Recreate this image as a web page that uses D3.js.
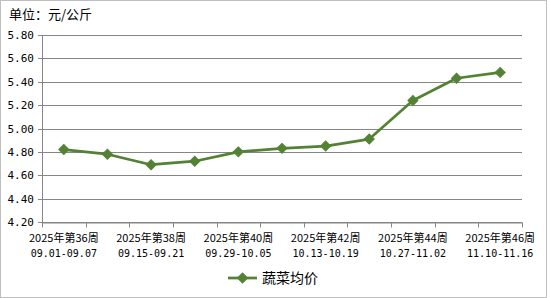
<!DOCTYPE html>
<html>
<head>
<meta charset="utf-8">
<script src="https://cdn.jsdelivr.net/npm/d3@7"></script>
<style>
  body { margin: 0; background: #fff; }
  svg text { font-family: "Noto Sans CJK SC", "DejaVu Sans", sans-serif; fill: #000; }
</style>
</head>
<body>
<div id="chart"></div>
<script>
const weeks = ["2025年第36周", "2025年第37周", "2025年第38周", "2025年第39周", "2025年第40周",
  "2025年第41周", "2025年第42周", "2025年第43周", "2025年第44周", "2025年第45周", "2025年第46周"];
const ranges = ["09.01-09.07", "09.08-09.14", "09.15-09.21", "09.22-09.28", "09.29-10.05",
  "10.06-10.12", "10.13-10.19", "10.20-10.26", "10.27-11.02", "11.03-11.09", "11.10-11.16"];
const prices = [4.82, 4.78, 4.69, 4.72, 4.80, 4.83, 4.85, 4.91, 5.24, 5.43, 5.48];
const yTicks = [4.2, 4.4, 4.6, 4.8, 5.0, 5.2, 5.4, 5.6, 5.8];
const seriesName = "蔬菜均价";
const unitLabel = "单位：元/公斤";

const W = 550, H = 298;
const MARGIN = { top: 35, right: 28, bottom: 76, left: 42 };
const GREEN = "#548235";
const GRID = "#868686";
const MONO = "'DejaVu Sans Mono', 'Liberation Mono', monospace";

const svg = d3.select("#chart").append("svg")
  .attr("width", W).attr("height", H);

svg.append("rect")
  .attr("x", 0.5).attr("y", 0.5)
  .attr("width", W - 4).attr("height", H - 1)
  .attr("fill", "#fff").attr("stroke", "#bfbfbf");

const innerW = W - MARGIN.left - MARGIN.right;
const innerH = H - MARGIN.top - MARGIN.bottom;

const g = svg.append("g").attr("transform", `translate(${MARGIN.left},${MARGIN.top})`);

const x = d3.scaleBand().domain(weeks).range([0, innerW]);
const y = d3.scaleLinear().domain([4.2, 5.8]).range([innerH, 0]);
const cx = i => x(weeks[i]) + x.bandwidth() / 2;

// grid
g.append("g").selectAll("line")
  .data(yTicks)
  .join("line")
  .attr("x1", 0).attr("x2", innerW)
  .attr("y1", d => Math.round(y(d)) + 0.5).attr("y2", d => Math.round(y(d)) + 0.5)
  .attr("stroke", GRID).attr("stroke-width", 1);

// y axis
const yAxis = g.append("g")
  .call(d3.axisLeft(y).tickValues(yTicks).tickFormat(d3.format(".2f")).tickSize(4).tickPadding(4));
yAxis.select(".domain").attr("stroke", GRID);
yAxis.selectAll(".tick line").attr("stroke", GRID);
yAxis.selectAll(".tick text").attr("font-size", 11).style("font-family", MONO);
yAxis.selectAll(".tick").attr("transform", d => `translate(0,${Math.round(y(d)) + 0.5})`);

// x axis
const xAxis = g.append("g")
  .attr("transform", `translate(0,${Math.round(innerH) + 0.5})`)
  .call(d3.axisBottom(x).tickValues([]).tickSizeOuter(0));
xAxis.select(".domain").attr("stroke", GRID);
const bounds = weeks.map(w => x(w)).concat([innerW]);
xAxis.selectAll(".tick-mark")
  .data(bounds)
  .join("line")
  .attr("x1", d => Math.round(d) + 0.5).attr("x2", d => Math.round(d) + 0.5)
  .attr("y1", 0).attr("y2", 5)
  .attr("stroke", GRID);

const labelIdx = weeks.map((w, i) => i).filter(i => i % 2 === 0);
xAxis.selectAll(".xl1")
  .data(labelIdx)
  .join("text")
  .attr("text-anchor", "middle")
  .attr("font-size", 11)
  .attr("x", cx).attr("y", 19)
  .text(i => weeks[i]);
xAxis.selectAll(".xl2")
  .data(labelIdx)
  .join("text")
  .attr("text-anchor", "middle")
  .attr("font-size", 10)
  .style("font-family", MONO)
  .attr("x", cx).attr("y", 34)
  .text(i => ranges[i]);

// line
const line = d3.line()
  .x((d, i) => cx(i))
  .y(d => y(d));

g.append("path")
  .datum(prices)
  .attr("d", line)
  .attr("fill", "none")
  .attr("stroke", GREEN)
  .attr("stroke-width", 2.75)
  .attr("stroke-linejoin", "round");

const diamond = d3.symbol().type(d3.symbolSquare).size(50);
g.append("g").selectAll("path")
  .data(prices)
  .join("path")
  .attr("transform", (d, i) => `translate(${cx(i)},${y(d)}) rotate(45)`)
  .attr("d", diamond)
  .attr("fill", GREEN)
  .attr("stroke", GREEN);

// unit label
svg.append("text")
  .attr("x", 9).attr("y", 19)
  .attr("font-size", 13)
  .text(unitLabel);

// legend
const leg = svg.append("g").attr("transform", "translate(228,278)");
leg.append("line")
  .attr("x1", 0).attr("x2", 29)
  .attr("stroke", GREEN).attr("stroke-width", 2.75);
leg.append("path")
  .attr("transform", "translate(14.5,0) rotate(45)")
  .attr("d", diamond)
  .attr("fill", GREEN)
  .attr("stroke", GREEN);
leg.append("text")
  .attr("x", 34).attr("y", 5)
  .attr("font-size", 14)
  .text(seriesName);
</script>
</body>
</html>
